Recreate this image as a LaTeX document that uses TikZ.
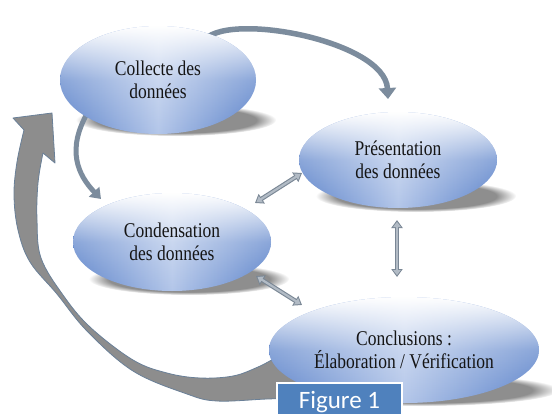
\documentclass[tikz,border=0pt]{standalone}
\usepackage{fontspec}
\setmainfont{Liberation Serif}
\newfontfamily\figfont{Carlito}
\usetikzlibrary{shapes.geometric,arrows.meta,fadings}
\definecolor{edgeblue}{HTML}{5880C9}
\definecolor{midblue}{HTML}{B3C6E9}
\definecolor{shadowgray}{HTML}{8E8E8E}
\definecolor{arrowblue}{HTML}{7C8C9D}
\definecolor{dblout}{HTML}{7A8795}
\definecolor{dblin}{HTML}{B2BBC5}
\definecolor{bigfill}{HTML}{8D8D8D}
\definecolor{bigline}{HTML}{6A8098}
\definecolor{figblue}{HTML}{4F81BD}
\definecolor{txt}{HTML}{151515}
\newcommand{\tline}[1]{\scalebox{1}[1.2]{#1}}
\tikzfading[name=topglow, top color=transparent!0, bottom color=transparent!100, middle color=transparent!70]
\begin{document}
\begin{tikzpicture}[x=1pt,y=-1pt,
  ell/.style={ellipse, inner sep=0pt, align=center, text=txt,
    font=\fontsize{17.5}{23}\selectfont,
    left color=edgeblue, right color=edgeblue, middle color=midblue,
    path picture={\fill[white, path fading=topglow] (path picture bounding box.south west) rectangle (path picture bounding box.north east);}},
  shadowell/.style={fill=shadowgray, path fading=circle with fuzzy edge 20 percent},
  toparrow/.style={line width=5.5pt, arrowblue, -{Triangle[length=11pt,width=17pt]}},
  smallarrow/.style={line width=5pt, arrowblue, -{Triangle[length=10pt,width=14pt]}},
  dblouter/.style={line width=4.4pt, dblout, {Triangle[length=8pt,width=11pt]}-{Triangle[length=8pt,width=11pt]}},
  dblinner/.style={line width=2.2pt, dblin, shorten <=1.8pt, shorten >=1.8pt, {Triangle[length=5.2pt,width=7.4pt]}-{Triangle[length=5.2pt,width=7.4pt]}},
  bigarrow/.style={fill=bigfill, draw=bigline, line width=0.8pt, line join=round},
  figbox/.style={fill=figblue, draw=white, line width=2pt, text=white,
    font=\figfont\fontsize{25}{30}\selectfont, minimum width=125pt,
    text height=16pt, text depth=5pt, inner ysep=9pt}
]
\useasboundingbox (0,0) rectangle (552,413);
\fill[white] (0,0) rectangle (552,413);

% shadows
\fill[shadowell] (176,120) ellipse [x radius=100pt, y radius=16pt];
\fill[shadowell] (416,196) ellipse [x radius=100pt, y radius=16pt];
\fill[shadowell] (189,279) ellipse [x radius=100pt, y radius=16pt];
\fill[shadowell] (422,390) ellipse [x radius=137pt, y radius=16pt];

% big return arrow
\filldraw[bigarrow] (52,113) -- (55,163) -- (43,153)
  -- plot[smooth, tension=0.6] coordinates {(43,153) (38,183) (37,220) (41,258) (63,295) (90,327) (133,360) (167,373) (200,378) (233,376) (258,367) (280,356) (310,345)}
  -- (330,395)
  -- plot[smooth, tension=0.6] coordinates {(330,395) (300,398) (267,399) (217,401) (187,394) (133,371) (87,331) (57,294) (30,262) (18,230) (14,195) (17,162) (24,130)}
  -- (13,118) -- cycle;

% arrow end points
\coordinate (ta0) at (203,42);
\coordinate (ta1) at (388,99);
\coordinate (sa0) at (88,112);
\coordinate (sa1) at (101,199);
\coordinate (d1a) at (255,203);
\coordinate (d1b) at (302,173);
\coordinate (d2a) at (397,220);
\coordinate (d2b) at (397,277);
\coordinate (d3a) at (256,276);
\coordinate (d3b) at (302,305);

\draw[toparrow] (ta0) .. controls (222,10) and (385,40) .. (ta1);
\draw[smallarrow] (sa0) .. controls (66,150) and (78,175) .. (sa1);

% ellipses
\node[ell, minimum width=196pt, minimum height=108pt] (collecte) at (158,80) {\tline{Collecte des}\\\tline{données}};
\node[ell, minimum width=198pt, minimum height=96pt] (presentation) at (398,160) {\tline{Présentation}\\\tline{des données}};
\node[ell, minimum width=198pt, minimum height=98pt] (condensation) at (172,242) {\tline{Condensation}\\\tline{des données}};
\node[ell, minimum width=270pt, minimum height=106pt] (conclusions) at (404,350) {\tline{Conclusions :}\\\tline{Élaboration / Vérification}};

% double arrows
\draw[dblouter] (d1a) -- (d1b);
\draw[dblinner] (d1a) -- (d1b);
\draw[dblouter] (d2a) -- (d2b);
\draw[dblinner] (d2a) -- (d2b);
\draw[dblouter] (d3a) -- (d3b);
\draw[dblinner] (d3a) -- (d3b);

% figure label
\node[figbox, anchor=north] (fig) at (339.5,382) {Figure 1};
\end{tikzpicture}
\end{document}
